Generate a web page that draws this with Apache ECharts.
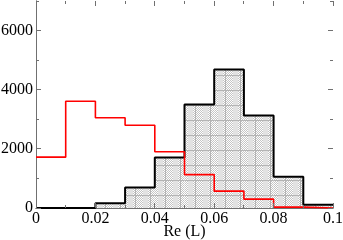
<!DOCTYPE html>
<html><head><meta charset="utf-8">
<script src="https://cdn.jsdelivr.net/npm/echarts@6/dist/echarts.min.js"></script>
<style>html,body{margin:0;padding:0;background:#fff}#c{width:343px;height:240px}</style>
</head><body><div id="c"></div><script>
// bin edges (Re (L)), width 0.01
const binStarts = [0, 0.01, 0.02, 0.03, 0.04, 0.05, 0.06, 0.07, 0.08, 0.09];
const binWidth = 0.01;
const blackCounts = [0, 0, 160, 690, 1710, 3500, 4680, 3130, 1060, 110];
const redCounts = [1720, 3610, 3050, 2800, 1900, 1130, 570, 300, 30, 0];
const xMin = 0, xMax = 0.1, xInterval = 0.02;
const yMin = 0, yMax = 7000, yInterval = 2000;
// tick positions (major = labelled)
const xTickValues = [0, 0.01, 0.02, 0.03, 0.04, 0.05, 0.06, 0.07, 0.08, 0.09, 0.1];
const xTickMajor  = [1, 0, 1, 0, 1, 0, 1, 0, 1, 0, 1];
const yTickValues = [0, 1000, 2000, 3000, 4000, 5000, 6000, 7000];
const yTickMajor  = [1, 0, 1, 0, 1, 0, 1, 0];

function stepData(counts) {
  const d = binStarts.map((s, i) => [s, counts[i]]);
  d.push([binStarts[binStarts.length - 1] + binWidth, counts[counts.length - 1]]);
  return d;
}

// hatch tile
const T = 15;
const tile = document.createElement('canvas');
tile.width = T; tile.height = T;
const tc = tile.getContext('2d');
tc.fillStyle = '#ffffff'; tc.fillRect(0, 0, T, T);
for (let y = 0; y < T; y++) for (let x = 0; x < T; x++) {
  if ((x + y) % 2 === 0) { tc.fillStyle = '#c4c4c4'; tc.fillRect(x, y, 1, 1); }
}
tc.fillStyle = '#e2e2e2'; tc.fillRect(8, 0, 5, T);
tc.fillStyle = '#b4b4b4'; tc.fillRect(0, 0, T, 1); tc.fillRect(0, 0, 1, T);

const font = '"Liberation Serif", "Times New Roman", serif';
const axisColor = '#707070';
const MAJOR = 5, MINOR = 3;

function crisp(v) { return Math.round(v - 0.5) + 0.5; }

const chart = echarts.init(document.getElementById('c'), null, { renderer: 'canvas' });
chart.setOption({
  animation: false,
  textStyle: { fontFamily: font },
  grid: { left: 36, right: 10, top: 1, bottom: 32, containLabel: false, outerBoundsMode: 'none' },
  xAxis: [{
    type: 'value', min: xMin, max: xMax, interval: xInterval, position: 'bottom',
    name: 'Re (L)', nameLocation: 'middle', nameGap: 16, nameMoveOverlap: false,
    nameTextStyle: { fontFamily: font, fontSize: 16, color: '#000' },
    axisLine: { show: true, lineStyle: { color: axisColor, width: 1 } },
    axisTick: { show: false },
    axisLabel: { fontFamily: font, fontSize: 16, color: '#000', margin: 3,
      formatter: v => (v === 0 ? '0' : (Math.abs(v - 0.1) < 1e-9 ? '0.1' : v.toFixed(2))) },
    splitLine: { show: false }
  }, {
    type: 'value', min: xMin, max: xMax, position: 'top',
    axisLine: { show: true, lineStyle: { color: axisColor, width: 1 } },
    axisTick: { show: false }, axisLabel: { show: false }, splitLine: { show: false }
  }],
  yAxis: [{
    type: 'value', min: yMin, max: yMax, interval: yInterval, position: 'left',
    axisLine: { show: true, lineStyle: { color: axisColor, width: 1 } },
    axisTick: { show: false },
    axisLabel: { fontFamily: font, fontSize: 16, color: '#000', margin: 3,
      showMaxLabel: false, formatter: v => String(v) },
    splitLine: { show: false }
  }, {
    type: 'value', min: yMin, max: yMax, position: 'right',
    axisLine: { show: true, lineStyle: { color: axisColor, width: 1 } },
    axisTick: { show: false }, axisLabel: { show: false }, splitLine: { show: false }
  }],
  series: [{
    type: 'custom',
    xAxisIndex: 0, yAxisIndex: 0,
    data: binStarts.map((s, i) => [s, blackCounts[i]]),
    renderItem: function (params, api) {
      const x0 = api.value(0), v = api.value(1);
      const p0 = api.coord([x0, v]);
      const p1 = api.coord([x0 + binWidth, 0]);
      return {
        type: 'rect',
        shape: { x: p0[0], y: p0[1], width: p1[0] - p0[0], height: p1[1] - p0[1] },
        style: { fill: { image: tile, repeat: 'repeat' }, stroke: null }
      };
    },
    z: 1
  }, {
    // inward ticks on bottom and top frame edges
    type: 'custom', xAxisIndex: 0, yAxisIndex: 0, clip: false,
    data: xTickValues.map((v, i) => [v, xTickMajor[i]]),
    renderItem: function (params, api) {
      const cs = params.coordSys;
      const x = crisp(api.coord([api.value(0), 0])[0]);
      const len = api.value(1) ? MAJOR : MINOR;
      const yb = cs.y + cs.height, yt = cs.y;
      const st = { stroke: axisColor, lineWidth: 1 };
      return { type: 'group', children: [
        { type: 'line', shape: { x1: x, y1: yb, x2: x, y2: yb - len }, style: st },
        { type: 'line', shape: { x1: x, y1: yt, x2: x, y2: yt + len }, style: st }
      ] };
    },
    z: 5
  }, {
    // inward ticks on left and right frame edges
    type: 'custom', xAxisIndex: 0, yAxisIndex: 0, clip: false,
    data: yTickValues.map((v, i) => [0, v, yTickMajor[i]]),
    renderItem: function (params, api) {
      const cs = params.coordSys;
      const y = crisp(api.coord([0, api.value(1)])[1]);
      const len = api.value(2) ? MAJOR : MINOR;
      const xl = cs.x, xr = cs.x + cs.width;
      const st = { stroke: axisColor, lineWidth: 1 };
      return { type: 'group', children: [
        { type: 'line', shape: { x1: xl, y1: y, x2: xl + len, y2: y }, style: st },
        { type: 'line', shape: { x1: xr, y1: y, x2: xr - len, y2: y }, style: st }
      ] };
    },
    z: 5
  }, {
    type: 'line', step: 'end', data: stepData(blackCounts), symbol: 'none',
    xAxisIndex: 0, yAxisIndex: 0,
    lineStyle: { color: '#000', width: 2 }, z: 3
  }, {
    type: 'line', step: 'end', data: stepData(redCounts), symbol: 'none',
    xAxisIndex: 0, yAxisIndex: 0,
    lineStyle: { color: '#ff0000', width: 1.6 }, z: 4
  }]
});
</script></body></html>
